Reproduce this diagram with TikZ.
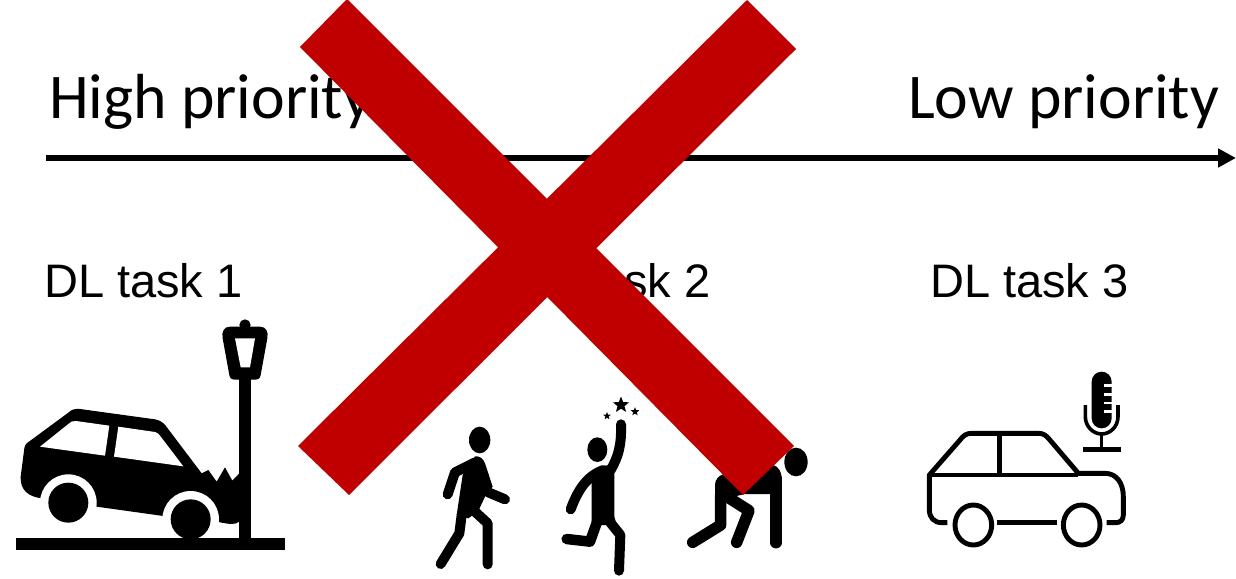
\documentclass[tikz,border=0pt]{standalone}
\usepackage{fontspec}
\setmainfont{Liberation Sans}
\newfontfamily\carlito{Carlito}
\usetikzlibrary{arrows.meta,shapes.geometric}
\definecolor{xred}{HTML}{C00000}
\tikzset{
  heading/.style={anchor=base west,inner sep=0,font=\carlito\fontsize{63.7}{70}\selectfont},
  tasklabel/.style={anchor=base west,inner sep=0,font=\fontsize{47}{50}\selectfont},
  limb/.style={draw=black,line cap=round,line join=round},
  xbar/.style={fill=xred,draw=none},
  outl/.style={draw=black,line width=4.9pt,line cap=butt,line join=round},
  starmark/.style={star,star points=5,star point ratio=2.3,fill=black,draw=none,inner sep=0},
  zoomA/.style={shift={(0,310)},x=0.33333pt,y=-0.33333pt},
  zoomB/.style={shift={(420,385)},x=0.33333pt,y=-0.33333pt},
  zoomC/.style={shift={(910,360)},x=0.33333pt,y=-0.33333pt},
}
\begin{document}
\begin{tikzpicture}[x=1pt,y=-1pt]
\useasboundingbox (0,0) rectangle (1236,578);
\fill[white] (0,0) rectangle (1236,578);
% headings
\node[heading] (high) at (49,118) {High priority};
\node[heading] (low) at (908,118) {Low priority};
\coordinate (axisL) at (46,158);
\coordinate (axisR) at (1236,158);
\draw[line width=5.5pt,-{Triangle[length=18pt,width=18pt]}] (axisL) -- (axisR);
\node[tasklabel] (t1) at (44,297) {DL task 1};
\node[tasklabel] (t2) at (512,297) {DL task 2};
\node[tasklabel] (t3) at (930,297) {DL task 3};
% crash icon
\begin{scope}[zoomA]
\fill (80,400) -- (205,308) .. controls (215,298) and (225,296) .. (240,297) -- (465,328)
  .. controls (480,331) and (490,338) .. (497,347) -- (605,490) -- (625,480) -- (650,515) -- (675,472)
  -- (697,512) -- (718,490) -- (718,635) .. controls (705,645) and (690,643) .. (655,636)
  -- (490,618) -- (290,590) -- (125,565) .. controls (85,560) and (60,540) .. (62,500)
  -- (73,415) .. controls (74,408) and (76,404) .. (80,400) -- cycle;
\fill[white] (120,410) -- (205,342) .. controls (212,335) and (218,332) .. (228,333) -- (328,347) -- (315,437) -- cycle;
\fill[white] (355,350) -- (465,366) .. controls (472,367) and (476,372) .. (480,377) -- (550,469) -- (342,440) -- cycle;
\fill[white] (205,578) circle (85);
\fill[white] (572,628) circle (85);
\fill (205,578) circle (60);
\fill (572,628) circle (60);
\fill (48,684) rectangle (854,720);
\fill (717,200) rectangle (753,690);
\fill (735,45) circle (17);
\fill (690,50) -- (780,50) .. controls (798,50) and (806,65) .. (802,85) -- (782,195) .. controls (780,205) and (775,209) .. (768,209)
  -- (702,209) .. controls (695,209) and (690,205) .. (688,195) -- (668,85) .. controls (664,65) and (672,50) .. (690,50) -- cycle;
\fill[white] (705,85) -- (765,85) -- (750,172) -- (722,172) -- cycle;
\end{scope}
% people
\begin{scope}[zoomB]
% walker
\fill (179,165) ellipse [x radius=32,y radius=40];
\draw[limb,line width=10pt] (83,328) -- (105,262) -- (165,232);
\draw[limb,line width=10pt] (205,322) -- (255,343);
\draw[limb,line width=10pt] (165,380) -- (203,415) -- (203,538);
\draw[limb,line width=10pt] (125,390) -- (118,445) -- (62,537);
\fill (165,214) .. controls (180,212) and (190,222) .. (195,235) -- (218,305) -- (195,335) -- (175,378) -- (145,400) -- (110,390) -- (128,270) -- cycle;
% jumper
\fill (532,194) ellipse [x radius=30,y radius=37];
\draw[limb,line width=10pt] (603,118) .. controls (605,180) and (595,215) .. (572,255);
\draw[limb,line width=10pt] (452,373) .. controls (470,325) and (495,275) .. (550,255);
\fill (515,290) .. controls (530,250) and (550,240) .. (583,238) -- (583,395) -- (590,420) -- (555,420) -- (530,420) -- (515,410) -- cycle;
\draw[limb,line width=10.5pt] (535,400) -- (510,470) -- (440,462);
\draw[limb,line width=10pt] (565,405) -- (601,450) -- (597,557);
\node[starmark,minimum size=17pt] (star1) at (603,60) {};
\node[starmark,minimum size=8pt] (star2) at (561,93) {};
\node[starmark,minimum size=9pt] (star3) at (645,80) {};
% bent person
\fill (1128,231) ellipse [x radius=35,y radius=43];
\fill (885,360) -- (885,300) .. controls (885,285) and (895,272) .. (910,268) -- (1060,240) .. controls (1075,245) and (1085,260) .. (1085,280) -- (1085,327) -- (975,327) -- (920,340) -- cycle;
\draw[limb,line width=11.5pt] (1068,280) -- (1068,473);
\draw[limb,line width=11.5pt] (905,325) -- (987,377) -- (950,472);
\draw[limb,line width=11.5pt] (902,330) -- (902,420) -- (818,472);
\end{scope}
% car with microphone
\begin{scope}[zoomC]
\draw[outl] (112,488) -- (95,488) .. controls (72,488) and (58,472) .. (58,450) -- (58,345) -- (150,240)
  .. controls (160,226) and (170,220) .. (185,220) -- (385,220) .. controls (400,220) and (408,226) .. (418,238)
  -- (505,340) -- (585,340) .. controls (620,340) and (640,370) .. (640,410) -- (640,465) .. controls (640,480) and (630,488) .. (618,488) -- (590,488);
\draw[outl] (58,345) -- (505,345);
\draw[outl] (268,220) -- (268,345);
\draw[outl] (262,488) -- (440,488);
\draw[outl] (190,495) ellipse [x radius=55,y radius=60];
\draw[outl] (515,495) ellipse [x radius=55,y radius=60];
% microphone
\fill (545,65) arc [start angle=180,end angle=360,radius=30] -- (605,175) arc [start angle=0,end angle=180,radius=30] -- cycle;
\fill[white] (582,72) rectangle (607,80);
\fill[white] (582,99) rectangle (607,107);
\fill[white] (582,125) rectangle (607,133);
\fill[white] (582,150) rectangle (607,158);
\draw[black,line width=3.6pt] (526,135) -- (526,170) .. controls (526,200) and (550,222) .. (575,222) .. controls (600,222) and (624,200) .. (624,170) -- (624,135);
\draw[black,line width=3.6pt] (575,222) -- (575,265);
\fill (518,260) rectangle (633,276);
\end{scope}
% red cross
\fill[xbar] (300,47) -- (347,-1) -- (794,446) -- (743,495) -- cycle;
\fill[xbar] (747,0) -- (796,49) -- (349,495) -- (298,446) -- cycle;
\end{tikzpicture}
\end{document}
